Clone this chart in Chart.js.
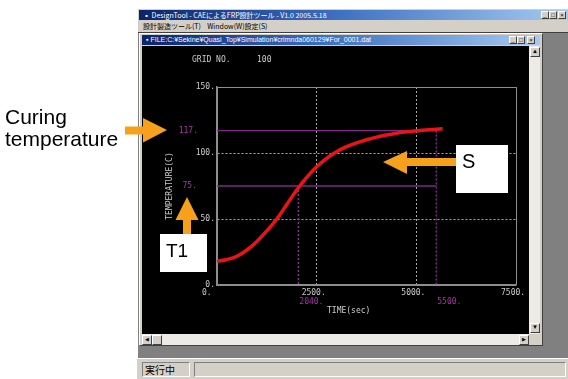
<!DOCTYPE html>
<html>
<head>
<meta charset="utf-8">
<script src="https://cdn.jsdelivr.net/npm/chart.js@4/dist/chart.umd.min.js"></script>
<style>
  html, body { margin: 0; padding: 0; }
  body { width: 568px; height: 379px; position: relative; overflow: hidden; background: #fff; font-family: "Liberation Sans", Arial, sans-serif; }
  .abs { position: absolute; box-sizing: border-box; }
  .bar { background: linear-gradient(to right, #0a246a, #3a6ec0 45%, #a6caf0); color: #fff; font-size: 7px; line-height: 10px; white-space: nowrap; overflow: hidden; padding-left: 4px; font-family: "Liberation Sans", "Noto Sans CJK JP", sans-serif; }
  .btn { background: #d4d0c8; border: 1px solid; border-color: #fff #404040 #404040 #fff; width: 8px; height: 8px; font-size: 6px; line-height: 6px; text-align: center; color: #000; }
  .sunk { border: 1px solid; border-color: #808080 #fff #fff #808080; }
  .note { font-family: "Liberation Sans", Arial, sans-serif; color: #000; white-space: nowrap; }
</style>
</head>
<body>
<!-- application window -->
<div class="abs" style="left:137px;top:8px;width:431px;height:371px;background:#d4d0c8;border-left:1px solid #fff;border-top:1px solid #fff;"></div>
<div class="abs bar" style="left:139px;top:10px;width:429px;height:10px;font-family:'Noto Sans CJK JP',sans-serif;">▪ DesignTool - CAEによるFRP設計ツール - V1.0 2005.5.18</div>
<div class="abs btn" style="left:541px;top:11px;">_</div>
<div class="abs btn" style="left:549px;top:11px;">□</div>
<div class="abs btn" style="left:558px;top:11px;">×</div>
<div class="abs" style="left:143px;top:21px;font-size:7px;line-height:10px;white-space:nowrap;font-family:'Noto Sans CJK JP',sans-serif;color:#000;">設計製造ツール(T)&nbsp;&nbsp;&nbsp;&nbsp;Window(W)設定(S)</div>

<!-- MDI client area -->
<div class="abs" style="left:138px;top:32px;width:430px;height:326px;background:#808080;border-top:1px solid #404040;"></div>

<!-- child window -->
<div class="abs" style="left:139px;top:33px;width:404px;height:313px;background:#d4d0c8;border:1px solid;border-color:#fff #404040 #404040 #fff;"></div>
<div class="abs bar" style="left:142px;top:35px;width:398px;height:10px;">▪ FILE:C:¥Sekine¥Quasi_Top¥Simulation¥crimnda060129¥For_0001.dat</div>
<div class="abs btn" style="left:509px;top:36px;">_</div>
<div class="abs btn" style="left:517px;top:36px;">□</div>
<div class="abs btn" style="left:527px;top:36px;">×</div>

<!-- plot surface -->
<div class="abs" style="left:142px;top:46px;width:387px;height:288px;background:#000;"></div>
<canvas id="c" class="abs" width="387" height="288" style="left:142px;top:46px;width:387px;height:288px;"></canvas>

<!-- scrollbars -->
<div class="abs" style="left:529px;top:46px;width:11px;height:288px;background:#ecebe6;"></div>
<div class="abs btn" style="left:530px;top:47px;width:10px;height:10px;">▲</div>
<div class="abs btn" style="left:530px;top:323px;width:10px;height:10px;">▼</div>
<div class="abs" style="left:142px;top:334px;width:387px;height:11px;background:#ecebe6;"></div>
<div class="abs btn" style="left:142px;top:335px;width:10px;height:10px;font-size:5px;">◀</div>
<div class="abs btn" style="left:152px;top:335px;width:10px;height:10px;"></div>
<div class="abs btn" style="left:519px;top:335px;width:10px;height:10px;font-size:5px;">▶</div>
<div class="abs" style="left:529px;top:334px;width:11px;height:11px;background:#d4d0c8;"></div>

<!-- status bar -->
<div class="abs" style="left:137px;top:358px;width:431px;height:21px;background:#d4d0c8;border-top:1px solid #fff;"></div>
<div class="abs sunk" style="left:142px;top:362px;width:48px;height:15px;font-size:10px;line-height:13px;padding-left:2px;font-family:'Noto Sans CJK JP',sans-serif;">実行中</div>
<div class="abs sunk" style="left:194px;top:362px;width:372px;height:15px;"></div>

<!-- callouts -->
<svg class="abs" style="left:0;top:0;" width="568" height="379">
  <polygon fill="#f7a01c" points="125,126.5 143,126.5 143,118 167,130 143,142.5 143,134.5 125,134.5"/>
  <polygon fill="#f7a01c" points="187,197 198.5,220 191,220 191,236 183,236 183,220 175.5,220"/>
  <polygon fill="#f7a01c" points="383,162 407,151 407,158 458,158 458,166 407,166 407,174"/>
  <rect x="160" y="234" width="47" height="38" fill="#fff"/>
  <rect x="456" y="145" width="52" height="48" fill="#fff"/>
</svg>
<div class="abs note" style="left:5px;top:106px;font-size:21px;line-height:22px;">Curing<br>temperature</div>
<div class="abs note" style="left:166px;top:241px;font-size:19px;line-height:19px;">T1</div>
<div class="abs note" style="left:462px;top:151px;font-size:20px;line-height:20px;">S</div>

<script>
// cure simulation: temperature history of the part (time in sec, temperature in deg C)
const timeSec = [0, 250, 500, 750, 1000, 1250, 1500, 1750, 2000, 2250, 2500, 2750, 3000, 3250, 3500, 3750, 4000, 4250, 4500, 4750, 5000, 5250, 5500, 5660];
const tempC   = [18, 19.3, 21.8, 26.5, 33, 41, 50, 61, 72, 81.5, 89.5, 96, 101, 104.8, 107.7, 110, 112, 113.6, 115, 116, 116.8, 117.5, 118, 118.3];

const xTickValues = [0, 2500, 5000, 7500];
const yTickValues = [0, 50, 100, 150];

const gridNo = 100;
const cureTemp = 117;   // curing temperature
const t1Temp = 75;      // T1 level
const t1Time = 2040;    // time the part reaches T1
const sTime = 5500;     // end of the curing section S

const mono = '"DejaVu Sans Mono", "Liberation Mono", monospace';
const textGray = '#cdcdcd';
const magenta = '#a636a6';

const edge = (scale, v) => v === scale.min || v === scale.max;

const overlayText = {
  id: 'overlayText',
  afterDraw(chart) {
    const { ctx, scales: { x, y } } = chart;
    ctx.save();
    ctx.font = '8px ' + mono;
    ctx.textBaseline = 'middle';
    ctx.fillStyle = textGray;
    ctx.textAlign = 'left';
    ctx.fillText('GRID NO.', 50, 14);
    ctx.fillText(String(gridNo), 115, 14);
    ctx.fillText('TIME(sec)', 185, 265);

    ctx.fillStyle = magenta;
    ctx.textAlign = 'right';
    ctx.fillText(cureTemp + '.', 56, y.getPixelForValue(cureTemp));
    ctx.fillText(t1Temp + '.', 55, y.getPixelForValue(t1Temp));
    ctx.textAlign = 'left';
    ctx.fillText(t1Time + '.', x.getPixelForValue(t1Time) + 1, 256);
    ctx.fillText(sTime + '.', x.getPixelForValue(sTime) + 1, 256);
    ctx.restore();
  }
};

new Chart(document.getElementById('c'), {
  type: 'line',
  data: {
    datasets: [
      {
        label: 'temperature',
        data: timeSec.map((t, i) => ({ x: t, y: tempC[i] })),
        borderColor: '#ea1418',
        borderWidth: 3.5,
        pointRadius: 0,
        tension: 0.4,
        order: 0
      },
      {
        label: 'cure level',
        data: [{ x: 0, y: cureTemp }, { x: sTime, y: cureTemp }],
        borderColor: '#7e2a86', borderWidth: 1.3, pointRadius: 0, order: 1
      },
      {
        label: 'T1 level',
        data: [{ x: 0, y: t1Temp }, { x: sTime, y: t1Temp }],
        borderColor: '#7e2a86', borderWidth: 1.3, pointRadius: 0, order: 1
      },
      {
        label: 'T1 time',
        data: [{ x: t1Time, y: t1Temp }, { x: t1Time, y: 0 }],
        borderColor: '#9a32a2', borderWidth: 1.2, borderDash: [2, 2], pointRadius: 0, order: 1
      },
      {
        label: 'S end',
        data: [{ x: sTime, y: cureTemp }, { x: sTime, y: 0 }],
        borderColor: '#9a32a2', borderWidth: 1.2, borderDash: [2, 2], pointRadius: 0, order: 1
      }
    ]
  },
  options: {
    responsive: false,
    devicePixelRatio: 1,
    animation: false,
    layout: { padding: { top: 41, right: 13, left: 0, bottom: 0 } },
    plugins: { legend: { display: false }, tooltip: { enabled: false } },
    scales: {
      x: {
        type: 'linear',
        min: 0, max: 7500,
        afterBuildTicks: s => { s.ticks = xTickValues.map(v => ({ value: v })); },
        afterFit: s => { s.height = 49; s.paddingLeft = 0; s.paddingRight = 0; },
        ticks: {
          callback: v => v + '.',
          align: 'start', labelOffset: -15,
          font: { family: mono, size: 8 }, color: textGray,
          padding: 3, maxRotation: 0, autoSkip: false
        },
        grid: {
          drawTicks: false, lineWidth: 1,
          color: c => edge(c.scale, c.tick.value) ? '#8e8e8e' : '#a8a8a8'
        },
        border: {
          display: true, color: '#8e8e8e', width: 1.5,
          dash: c => (c.tick && !edge(c.scale, c.tick.value)) ? [2, 2] : []
        },
        title: { display: false }
      },
      y: {
        type: 'linear',
        min: 0, max: 150,
        afterBuildTicks: s => { s.ticks = yTickValues.map(v => ({ value: v })); },
        afterFit: s => { s.width = 75; s.paddingTop = 0; s.paddingBottom = 0; },
        ticks: {
          callback: v => v + '.',
          font: { family: mono, size: 8 }, color: textGray,
          padding: 2, autoSkip: false
        },
        grid: {
          drawTicks: false, lineWidth: 1,
          color: c => edge(c.scale, c.tick.value) ? '#8e8e8e' : '#a8a8a8'
        },
        border: {
          display: true, color: '#8e8e8e', width: 1.5,
          dash: c => (c.tick && !edge(c.scale, c.tick.value)) ? [2, 2] : []
        },
        title: {
          display: true, text: 'TEMPERATURE(C)',
          font: { family: mono, size: 8 }, color: textGray,
          padding: { top: 23, bottom: 0 }
        }
      }
    }
  },
  plugins: [overlayText]
});
</script>
</body>
</html>
